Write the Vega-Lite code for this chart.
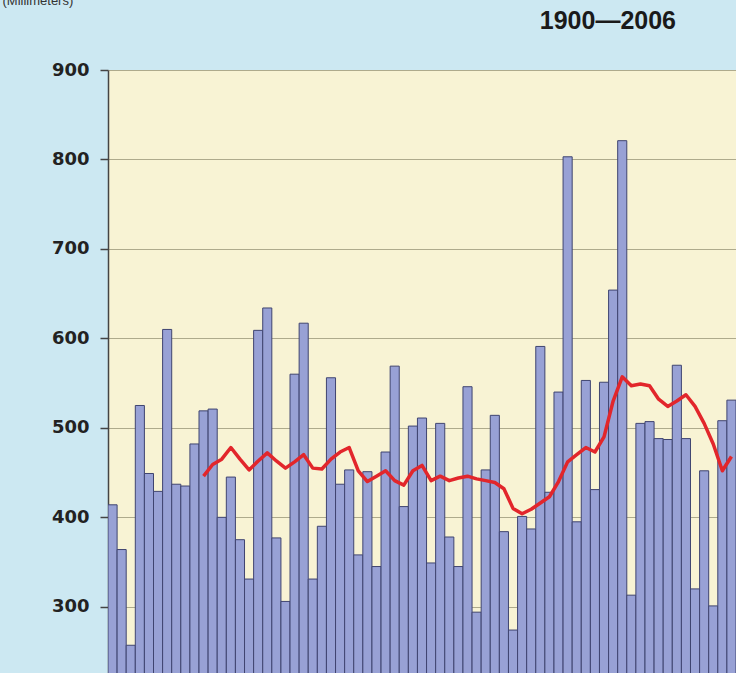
{
  "$schema": "https://vega.github.io/schema/vega-lite/v6.json",
  "width": 628,
  "height": 603,
  "autosize": {"type": "none"},
  "padding": {"left": 108, "top": 70, "right": 0, "bottom": 0},
  "background": "#cce8f2",
  "title": {"text": "1900—2006", "anchor": "end", "dx": -60, "offset": -40, "fontSize": 25, "font": "Liberation Sans", "fontWeight": "bold", "color": "#1a1a1a"},
  "config": {"view": {"fill": "#f8f3d4", "stroke": null}},
  "datasets": {
    "bars": [
      {"year": 1900, "mm": 414}, {"year": 1901, "mm": 364}, {"year": 1902, "mm": 257}, {"year": 1903, "mm": 525},
      {"year": 1904, "mm": 449}, {"year": 1905, "mm": 429}, {"year": 1906, "mm": 610}, {"year": 1907, "mm": 437},
      {"year": 1908, "mm": 435}, {"year": 1909, "mm": 482}, {"year": 1910, "mm": 519}, {"year": 1911, "mm": 521},
      {"year": 1912, "mm": 400}, {"year": 1913, "mm": 445}, {"year": 1914, "mm": 375}, {"year": 1915, "mm": 331},
      {"year": 1916, "mm": 609}, {"year": 1917, "mm": 634}, {"year": 1918, "mm": 377}, {"year": 1919, "mm": 306},
      {"year": 1920, "mm": 560}, {"year": 1921, "mm": 617}, {"year": 1922, "mm": 331}, {"year": 1923, "mm": 390},
      {"year": 1924, "mm": 556}, {"year": 1925, "mm": 437}, {"year": 1926, "mm": 453}, {"year": 1927, "mm": 358},
      {"year": 1928, "mm": 451}, {"year": 1929, "mm": 345}, {"year": 1930, "mm": 473}, {"year": 1931, "mm": 569},
      {"year": 1932, "mm": 412}, {"year": 1933, "mm": 502}, {"year": 1934, "mm": 511}, {"year": 1935, "mm": 349},
      {"year": 1936, "mm": 505}, {"year": 1937, "mm": 378}, {"year": 1938, "mm": 345}, {"year": 1939, "mm": 546},
      {"year": 1940, "mm": 294}, {"year": 1941, "mm": 453}, {"year": 1942, "mm": 514}, {"year": 1943, "mm": 384},
      {"year": 1944, "mm": 274}, {"year": 1945, "mm": 401}, {"year": 1946, "mm": 387}, {"year": 1947, "mm": 591},
      {"year": 1948, "mm": 428}, {"year": 1949, "mm": 540}, {"year": 1950, "mm": 803}, {"year": 1951, "mm": 395},
      {"year": 1952, "mm": 553}, {"year": 1953, "mm": 431}, {"year": 1954, "mm": 551}, {"year": 1955, "mm": 654},
      {"year": 1956, "mm": 821}, {"year": 1957, "mm": 313}, {"year": 1958, "mm": 505}, {"year": 1959, "mm": 507},
      {"year": 1960, "mm": 488}, {"year": 1961, "mm": 487}, {"year": 1962, "mm": 570}, {"year": 1963, "mm": 488},
      {"year": 1964, "mm": 320}, {"year": 1965, "mm": 452}, {"year": 1966, "mm": 301}, {"year": 1967, "mm": 508},
      {"year": 1968, "mm": 531}
    ],
    "avg": [
      {"year": 1910, "mm": 446}, {"year": 1911, "mm": 459}, {"year": 1912, "mm": 465}, {"year": 1913, "mm": 478},
      {"year": 1914, "mm": 465}, {"year": 1915, "mm": 453}, {"year": 1916, "mm": 463}, {"year": 1917, "mm": 472},
      {"year": 1918, "mm": 463}, {"year": 1919, "mm": 455}, {"year": 1920, "mm": 462}, {"year": 1921, "mm": 470},
      {"year": 1922, "mm": 455}, {"year": 1923, "mm": 454}, {"year": 1924, "mm": 465}, {"year": 1925, "mm": 473},
      {"year": 1926, "mm": 478}, {"year": 1927, "mm": 452}, {"year": 1928, "mm": 440}, {"year": 1929, "mm": 446},
      {"year": 1930, "mm": 452}, {"year": 1931, "mm": 441}, {"year": 1932, "mm": 436}, {"year": 1933, "mm": 452},
      {"year": 1934, "mm": 458}, {"year": 1935, "mm": 441}, {"year": 1936, "mm": 446}, {"year": 1937, "mm": 441},
      {"year": 1938, "mm": 444}, {"year": 1939, "mm": 446}, {"year": 1940, "mm": 443}, {"year": 1941, "mm": 441},
      {"year": 1942, "mm": 439}, {"year": 1943, "mm": 432}, {"year": 1944, "mm": 410}, {"year": 1945, "mm": 404},
      {"year": 1946, "mm": 409}, {"year": 1947, "mm": 416}, {"year": 1948, "mm": 423}, {"year": 1949, "mm": 440},
      {"year": 1950, "mm": 462}, {"year": 1951, "mm": 470}, {"year": 1952, "mm": 478}, {"year": 1953, "mm": 473},
      {"year": 1954, "mm": 490}, {"year": 1955, "mm": 530}, {"year": 1956, "mm": 557}, {"year": 1957, "mm": 547},
      {"year": 1958, "mm": 549}, {"year": 1959, "mm": 547}, {"year": 1960, "mm": 532}, {"year": 1961, "mm": 524},
      {"year": 1962, "mm": 530}, {"year": 1963, "mm": 537}, {"year": 1964, "mm": 524}, {"year": 1965, "mm": 505},
      {"year": 1966, "mm": 482}, {"year": 1967, "mm": 452}, {"year": 1968, "mm": 468}
    ]
  },
  "layer": [
    {
      "data": {"name": "bars"},
      "mark": {"type": "bar", "fill": "#98a1d5", "stroke": "#3f4470", "strokeWidth": 1, "clip": true},
      "encoding": {
        "x": {"field": "year", "type": "ordinal", "scale": {"paddingInner": 0, "paddingOuter": 0}, "axis": null},
        "y": {
          "field": "mm", "type": "quantitative",
          "scale": {"domain": [226, 900], "nice": false, "zero": false},
          "axis": {
            "values": [300, 400, 500, 600, 700, 800, 900],
            "grid": true, "gridColor": "#aeaa8c", "gridWidth": 1.2,
            "domainColor": "#444444", "domainWidth": 1.5,
            "tickColor": "#444444", "tickSize": 8, "tickWidth": 1.5,
            "labelFont": "DejaVu Sans", "labelFontWeight": "bold", "labelFontSize": 18, "labelColor": "#222222", "labelPadding": 11,
            "title": "(Millimeters)", "titleAngle": 0, "titleX": -106, "titleY": -66, "titleAlign": "left", "titleBaseline": "alphabetic",
            "titleFont": "Liberation Sans", "titleFontSize": 13, "titleFontWeight": "normal", "titleColor": "#333333"
          }
        },
        "y2": {"datum": 150}
      }
    },
    {
      "data": {"name": "avg"},
      "mark": {"type": "line", "color": "#e2262b", "strokeWidth": 3.5, "strokeJoin": "round"},
      "encoding": {
        "x": {"field": "year", "type": "ordinal"},
        "y": {"field": "mm", "type": "quantitative"}
      }
    }
  ]
}
